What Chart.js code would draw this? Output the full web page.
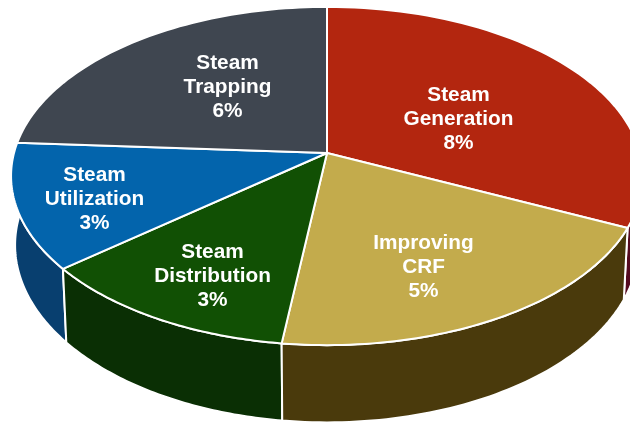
<!DOCTYPE html>
<html>
<head>
<meta charset="utf-8">
<style>
  html, body { margin: 0; padding: 0; background: #fff; overflow: hidden; }
  canvas { display: block; }
</style>
<script src="https://cdn.jsdelivr.net/npm/chart.js@4"></script>
</head>
<body>
<canvas id="pie3d" width="630" height="424"></canvas>
<script>
const categories = [['Steam', 'Generation'], ['Improving', 'CRF'], ['Steam', 'Distribution'], ['Steam', 'Utilization'], ['Steam', 'Trapping']];
const values = [8, 5, 3, 3, 6];
const topColors = ['#B3260F', '#C3AB4C', '#115004', '#0364AC', '#3F4650'];
const sideColors = ['#540A20', '#4A3A0C', '#0A2F04', '#083F6F', '#23272D'];
const labelCenters = [[458.5, 119], [423.5, 267], [212.5, 276], [94.5, 199], [227.5, 87]];

// top face and bottom rim of the tilted disc, w = 1 - tilt*sin(angle) gives the perspective
const tilt = 0.136;
const topFace = { cx: 327, cy: 153, a: 313, b: 166 };
const rim = { cx: 327, cy: 221, a: 309, b: 174 };

function project(plane, angle) {
  const w = 1 - tilt * Math.sin(angle);
  return [plane.cx + plane.a * Math.cos(angle) / w, plane.cy + plane.b * Math.sin(angle) / w];
}

function sweep(ctx, plane, from, to) {
  const steps = 60;
  for (let i = 0; i <= steps; i++) {
    const p = project(plane, from + (to - from) * i / steps);
    ctx.lineTo(p[0], p[1]);
  }
}

const pie3d = {
  id: 'pie3d',
  beforeDatasetDraw(chart, args) {
    const ctx = chart.ctx;
    const arcs = chart.getDatasetMeta(args.index).data;
    const order = arcs.map((arc, i) => i)
      .sort((m, n) => Math.sin((arcs[m].startAngle + arcs[m].endAngle) / 2) - Math.sin((arcs[n].startAngle + arcs[n].endAngle) / 2));

    ctx.save();
    ctx.lineWidth = 2;
    ctx.strokeStyle = '#fff';
    ctx.lineJoin = 'round';

    //walls, back ones first
    order.forEach(i => {
      const arc = arcs[i];
      ctx.beginPath();
      sweep(ctx, topFace, arc.startAngle, arc.endAngle);
      sweep(ctx, rim, arc.endAngle, arc.startAngle);
      ctx.closePath();
      ctx.fillStyle = sideColors[i];
      ctx.fill();
      ctx.stroke();
    });

    //top face
    arcs.forEach((arc, i) => {
      ctx.beginPath();
      ctx.moveTo(topFace.cx, topFace.cy);
      sweep(ctx, topFace, arc.startAngle, arc.endAngle);
      ctx.closePath();
      ctx.fillStyle = topColors[i];
      ctx.fill();
      ctx.stroke();
    });

    ctx.restore();
    return false;
  },
  afterDatasetsDraw(chart) {
    const ctx = chart.ctx;
    ctx.save();
    ctx.fillStyle = '#fff';
    ctx.font = 'bold 20.8px "Liberation Sans", Arial, sans-serif';
    ctx.textAlign = 'center';
    ctx.textBaseline = 'middle';
    categories.forEach((lines, i) => {
      const rows = [...lines, values[i] + '%'];
      rows.forEach((row, r) => {
        ctx.fillText(row, labelCenters[i][0], labelCenters[i][1] + (r - 1) * 24);
      });
    });
    ctx.restore();
  }
};

new Chart(document.getElementById('pie3d'), {
  type: 'pie',
  data: {
    labels: categories.map(c => c.join(' ')),
    datasets: [{ data: values, backgroundColor: topColors }]
  },
  options: {
    responsive: false,
    animation: false,
    plugins: { legend: { display: false }, tooltip: { enabled: false } }
  },
  plugins: [pie3d]
});
</script>
</body>
</html>
